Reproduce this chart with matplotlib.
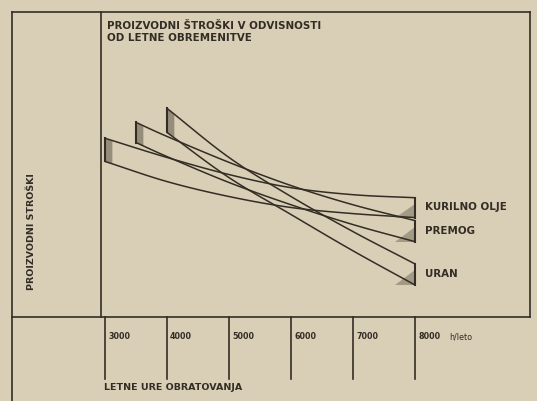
import matplotlib
matplotlib.use('Agg')
import matplotlib.pyplot as plt
import numpy as np
from matplotlib.lines import Line2D

# ---- data (costs in arbitrary units) ----
title = "PROIZVODNI ŠTROŠKI V ODVISNOSTI\nOD LETNE OBREMENITVE"
ylabel = "PROIZVODNI STROŠKI"
xlabel = "LETNE URE OBRATOVANJA"
xunit = "h/leto"
ticks = [3000, 4000, 5000, 6000, 7000, 8000]
tick_labels = ["3000", "4000", "5000", "6000", "7000", "8000"]

series_names = ["KURILNO OLJE", "PREMOG", "URAN"]
oil_h = [3000, 4000, 5000, 6000, 7000, 8000]
oil_top = [58.6, 52.3, 46.7, 42.4, 40.1, 39.1]
oil_bot = [51.0, 44.4, 39.5, 35.9, 33.9, 32.6]
coal_h = [3500, 4000, 5000, 6000, 7000, 8000]
coal_top = [63.8, 59.2, 50.7, 43.1, 36.8, 31.6]
coal_bot = [57.2, 52.6, 44.1, 36.8, 30.3, 24.7]
uran_h = [4000, 5000, 6000, 7000, 8000]
uran_top = [68.4, 52.3, 39.5, 28.0, 17.4]
uran_bot = [60.5, 45.7, 33.6, 21.7, 10.5]

BG = '#d9cfb6'
INK = '#332d25'

W, H = 537, 402
fig = plt.figure(figsize=(W / 100, H / 100), dpi=100)
fig.patch.set_facecolor(BG)

def fx(px):
    return px / W

def fy(py):
    return 1 - py / H

def smooth(x, y, n=20):
    """Catmull-Rom curve through the given points (for drawing only)."""
    x = np.asarray(x, float)
    y = np.asarray(y, float)
    P = np.column_stack([x, y])
    P = np.vstack([2 * P[0] - P[1], P, 2 * P[-1] - P[-2]])
    out = []
    t = np.linspace(0, 1, n, endpoint=False)[:, None]
    for i in range(1, len(P) - 2):
        p0, p1, p2, p3 = P[i - 1], P[i], P[i + 1], P[i + 2]
        seg = 0.5 * ((2 * p1) + (-p0 + p2) * t + (2 * p0 - 5 * p1 + 4 * p2 - p3) * t ** 2
                     + (-p0 + 3 * p1 - 3 * p2 + p3) * t ** 3)
        out.append(seg)
    out.append(P[-2][None, :])
    out = np.vstack(out)
    return out[:, 0], out[:, 1]

ax_l, ax_r, ax_t, ax_b = 101, 530, 13, 318
ax = fig.add_axes([fx(ax_l), fy(ax_b), fx(ax_r) - fx(ax_l), fy(ax_t) - fy(ax_b)])
ax.set_facecolor(BG)
ax.set_xlim(2935, 9855)
ax.set_ylim(0, 100)
ax.set_xticks([])
ax.set_yticks([])
for s in ax.spines.values():
    s.set_visible(False)
ax.spines['left'].set_visible(True)
ax.spines['left'].set_color(INK)
ax.spines['left'].set_linewidth(1.2)

# outer frame lines (figure coords)
frame_kw = dict(color=INK, lw=1.2, transform=fig.transFigure)
fig.add_artist(Line2D([fx(12), fx(ax_r)], [fy(13), fy(13)], **frame_kw))
fig.add_artist(Line2D([fx(12), fx(ax_r)], [fy(ax_b), fy(ax_b)], **frame_kw))
fig.add_artist(Line2D([fx(12), fx(12)], [fy(13), fy(402)], **frame_kw))
fig.add_artist(Line2D([fx(ax_r), fx(ax_r)], [fy(13), fy(ax_b)], **frame_kw))

# bands
bands = [(oil_h, oil_top, oil_bot), (coal_h, coal_top, coal_bot), (uran_h, uran_top, uran_bot)]
for h, top, bot in bands:
    h = np.array(h, float)
    top = np.array(top)
    bot = np.array(bot)
    ax.plot(*smooth(h, top), color=INK, lw=1.1, solid_capstyle='round')
    ax.plot(*smooth(h, bot), color=INK, lw=1.1, solid_capstyle='round')
    ax.plot([h[0], h[0]], [bot[0], top[0]], color=INK, lw=1.5)
    ax.plot([h[-1], h[-1]], [bot[-1], top[-1]], color=INK, lw=1.5)
    # left end shading
    hs = np.array([h[0], h[0] + 110])
    ax.fill_between(hs, np.interp(hs, h, bot), np.interp(hs, h, top), color='#857b6b', lw=0, alpha=0.8)
    # right end shading (triangle)
    ax.fill([h[-1], h[-1], h[-1] - 330], [top[-1] - 0.3 * (top[-1] - bot[-1]), bot[-1], bot[-1]],
            color='#a39a86', lw=0)

# series labels at the right end
for name, (h, top, bot) in zip(series_names, bands):
    ax.text(h[-1] + 160, (top[-1] + bot[-1]) / 2 + 0.5, name, fontsize=7.4, fontweight='bold',
            color=INK, ha='left', va='center')

# ticks below axis
tr = ax.get_xaxis_transform()
tick_len = (380 - ax_b) / (ax_b - ax_t)
lab_y = -(337 - ax_b) / (ax_b - ax_t)
for t, lab in zip(ticks, tick_labels):
    ax.plot([t, t], [0, -tick_len], color=INK, lw=1.2, transform=tr, clip_on=False)
    ax.text(t + 50, lab_y, lab, transform=tr, fontsize=5.8, fontweight='bold', color=INK,
            ha='left', va='center')
ax.text(ticks[-1] + 560, lab_y, xunit, transform=tr, fontsize=5.8, color=INK, ha='left', va='center')

# titles
fig.text(fx(107), fy(32), title, fontsize=7.4, fontweight='bold', color=INK, ha='left',
         va='center', linespacing=1.2)
fig.text(fx(104), fy(388), xlabel, fontsize=6.8, fontweight='bold', color=INK, ha='left', va='center')
fig.text(fx(32), fy(232), ylabel, fontsize=6.8, fontweight='bold', color=INK, rotation=90,
         ha='center', va='center')

fig.savefig('out.png', dpi=100, facecolor=BG)
